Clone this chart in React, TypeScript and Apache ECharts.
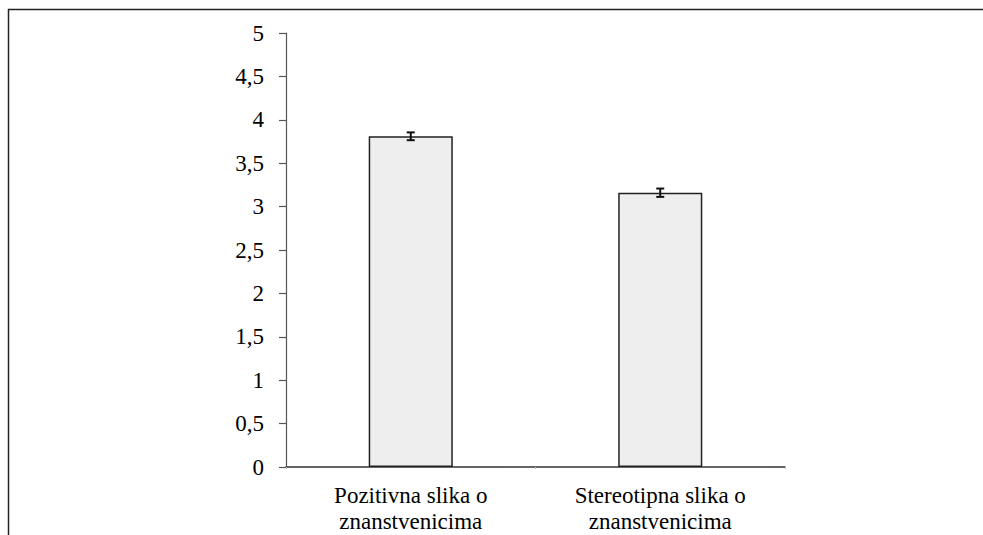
import React, { useEffect, useRef } from "react";
import * as echarts from "echarts";

const categories = ["Pozitivna slika o\nznanstvenicima", "Stereotipna slika o\nznanstvenicima"];
const means = [3.81, 3.16];
const errors = [0.045, 0.048];
const yTicks = [0, 0.5, 1, 1.5, 2, 2.5, 3, 3.5, 4, 4.5, 5];

export default function App() {
  const ref = useRef<HTMLDivElement>(null);
  useEffect(() => {
    if (!ref.current) return;
    const chart = echarts.init(ref.current, undefined, { renderer: "svg" });
    const font = "Liberation Serif";
    chart.setOption({
      animation: false,
      backgroundColor: "#ffffff",
      grid: { left: 286, right: 198, top: 33, bottom: 68, containLabel: false },
      graphic: [
        { type: "line", shape: { x1: 8, y1: 9.5, x2: 983, y2: 9.5 }, style: { stroke: "#222", lineWidth: 1.5 } },
        { type: "line", shape: { x1: 8.5, y1: 9, x2: 8.5, y2: 535 }, style: { stroke: "#222", lineWidth: 1.5 } },
      ],
      xAxis: {
        type: "category",
        data: categories,
        axisLine: { show: true, lineStyle: { color: "#333", width: 1.5 } },
        axisTick: { show: true, length: 2, lineStyle: { color: "#bbb" } },
        axisLabel: { color: "#000", fontFamily: font, fontSize: 23, lineHeight: 26, margin: 15 },
      },
      yAxis: {
        type: "value",
        min: 0,
        max: 5,
        interval: 0.5,
        splitLine: { show: false },
        axisLine: { show: true, lineStyle: { color: "#555", width: 1.2 } },
        axisTick: { show: true, length: 7, inside: false, lineStyle: { color: "#555", width: 1.2 } },
        axisLabel: {
          color: "#000",
          fontFamily: font,
          fontSize: 23,
          margin: 22,
          formatter: (v: number) => (yTicks.includes(v) ? String(v).replace(".", ",") : ""),
        },
      },
      series: [
        {
          type: "bar",
          data: means,
          barWidth: "33.7%",
          itemStyle: { color: "#eeeeee", borderColor: "#222", borderWidth: 1.5 },
        },
        {
          type: "custom",
          data: means.map((m, i) => [i, m - errors[i], m + errors[i]]),
          renderItem: (params: any, api: any) => {
            const x = api.value(0);
            const lo = api.coord([x, api.value(1)]);
            const hi = api.coord([x, api.value(2)]);
            const w = 4;
            const st = { stroke: "#111", lineWidth: 2 };
            return {
              type: "group",
              children: [
                { type: "line", shape: { x1: lo[0], y1: lo[1], x2: hi[0], y2: hi[1] }, style: st },
                { type: "line", shape: { x1: lo[0] - w, y1: lo[1], x2: lo[0] + w, y2: lo[1] }, style: st },
                { type: "line", shape: { x1: hi[0] - w, y1: hi[1], x2: hi[0] + w, y2: hi[1] }, style: st },
              ],
            };
          },
          z: 10,
        },
      ],
    });
    return () => chart.dispose();
  }, []);
  return <div ref={ref} style={{ position: "fixed", left: 0, top: 0, width: 983, height: 535 }} />;
}
